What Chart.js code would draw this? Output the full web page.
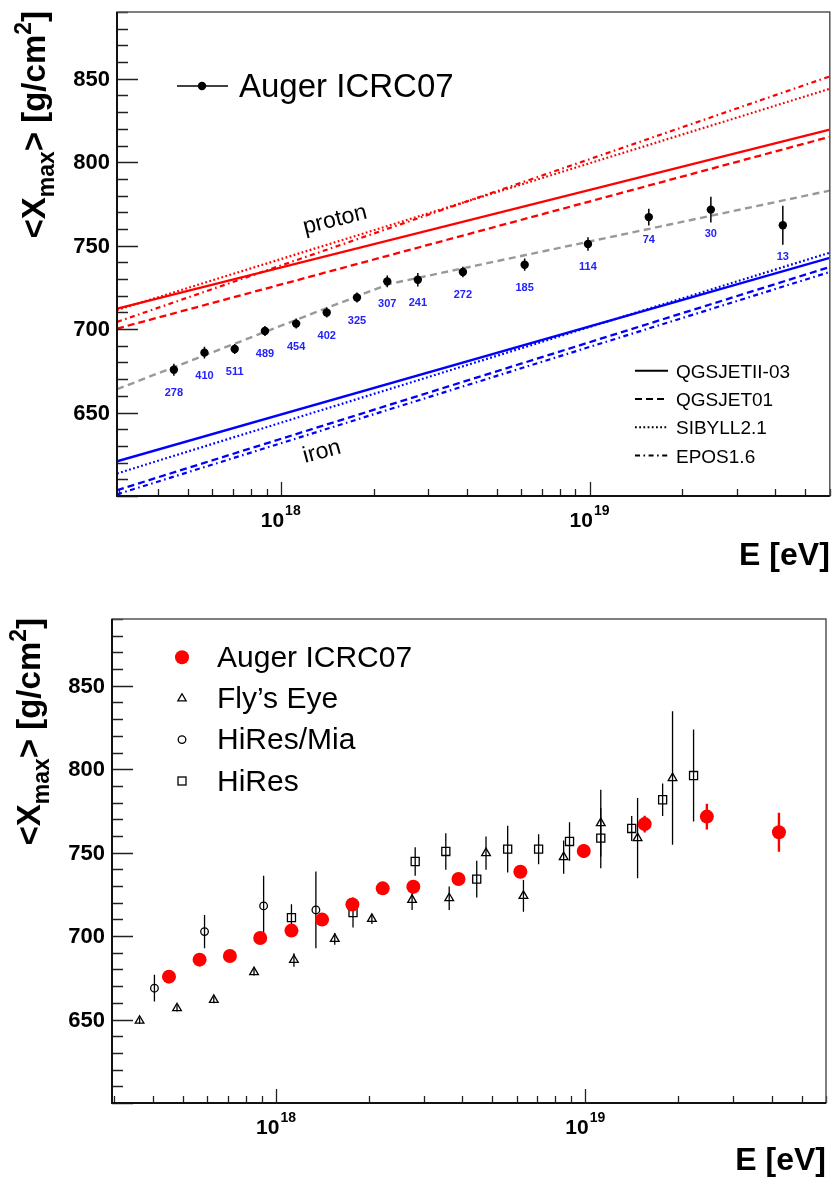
<!DOCTYPE html>
<html lang="en">
<head>
<meta charset="UTF-8">
<title>Xmax vs energy</title>
<script src="https://cdn.jsdelivr.net/npm/chart.js"></script>
<style>
  html, body { margin: 0; padding: 0; background: #fff; }
  #wrap { position: relative; width: 834px; height: 1180px; }
  canvas { position: absolute; left: 0; }
  #top { top: 0; }
  #bottom { top: 580px; }
</style>
</head>
<body>
<div id="wrap">
  <canvas id="top" width="834" height="580" style="width:834px;height:580px"></canvas>
  <canvas id="bottom" width="834" height="600" style="width:834px;height:600px"></canvas>
</div>
<script>
// energies are kept as log10(E/eV), depths in g/cm2

// Auger ICRC07
const augerLgE = [17.654, 17.753, 17.851, 17.949, 18.050, 18.149, 18.247, 18.345, 18.444, 18.590, 18.790, 18.995, 19.192, 19.393, 19.626];
const augerXmax = [675.7, 685.9, 688.1, 698.9, 703.3, 709.9, 718.9, 728.6, 729.6, 734.2, 738.6, 751.0, 767.1, 771.6, 762.2];
const augerErr = [3.6, 3.5, 3.0, 3.0, 3.0, 3.0, 3.0, 3.5, 4.0, 3.2, 3.7, 4.0, 5.0, 7.7, 11.7];
const augerEvents = [278, 410, 511, 489, 454, 402, 325, 307, 241, 272, 185, 114, 74, 30, 13];

// Fly's Eye
const flyLgE = [17.559, 17.680, 17.799, 17.929, 18.058, 18.190, 18.310, 18.440, 18.560, 18.679, 18.800, 18.930, 19.050, 19.169, 19.282];
const flyXmax = [649.3, 656.8, 661.8, 678.4, 685.7, 698.3, 710.3, 721.7, 722.7, 749.7, 724.1, 747.3, 767.7, 758.7, 794.7];
const flyErr = [2, 2, 2, 2, 4, 3.5, 3, 6, 7, 10, 9.5, 10, 20, 24, 40];

// HiRes/Mia
const miaLgE = [17.607, 17.769, 17.960, 18.129];
const miaXmax = [668.8, 702.7, 718.1, 715.7];
const miaErr = [8, 10, 18, 23];

// HiRes
const hiresLgE = [18.050, 18.249, 18.450, 18.549, 18.649, 18.749, 18.849, 18.949, 19.050, 19.150, 19.250, 19.350];
const hiresXmax = [711.1, 714.1, 744.7, 750.7, 734.1, 752.1, 752.1, 756.7, 758.7, 764.5, 781.7, 796.2];
const hiresErr = [8, 9, 8.6, 11, 11, 14, 9, 11.5, 18, 7.5, 9.7, 27.6];

// model predictions, straight in lg E (end points)
const modelLgE = [17.47, 19.778];
const protonQGSJETII = [712.3, 819.5];
const protonQGSJET01 = [700.3, 815.2];
const protonSIBYLL = [711.5, 844.0];
const protonEPOS = [704.3, 851.4];
const ironQGSJETII = [620.8, 742.7];
const ironQGSJET01 = [603.5, 737.2];
const ironSIBYLL = [613.5, 745.8];
const ironEPOS = [601.0, 734.2];

// broken-line fit through the Auger points
const fitLgE = [17.47, 18.35, 19.778];
const fitXmax = [664, 727, 783];

// axes
const eMin = 2.95e17, eMax = 6e19;
const xMin = 600, xMax = 890;
const xMajorTicks = [1e18, 1e19];
const yLabelValues = [650, 700, 750, 800, 850];
const modelNames = ['QGSJETII-03', 'QGSJET01', 'SIBYLL2.1', 'EPOS1.6'];
const expNames = ['Auger ICRC07', 'Fly\u2019s Eye', 'HiRes/Mia', 'HiRes'];

const FONT = '"Liberation Sans", Arial, Helvetica, sans-serif';
const DASH = { solid: [], dashed: [7, 4], dotted: [1.8, 2.4], dashdot: [5, 3.5, 1.6, 3.5] };
const modelDash = [DASH.solid, DASH.dashed, DASH.dotted, DASH.dashdot];

const xMinorTicks = [];
for (let d = 17; d <= 19; d++) {
  for (let m = 2; m <= 9; m++) {
    const v = m * 10 ** d;
    if (v >= eMin && v <= eMax) xMinorTicks.push(v);
  }
}
const yTickValues = [];
for (let v = xMin; v <= xMax; v += 10) yTickValues.push(v);

const pts = (lg, vals) => lg.map((l, i) => ({ x: 10 ** l, y: vals[i] }));
const bars = (lg, vals, err) => lg.flatMap((l, i) => [
  { x: 10 ** l, y: vals[i] - err[i] },
  { x: 10 ** l, y: vals[i] + err[i] },
  { x: 10 ** l, y: null }
]);

function lineSet(lg, vals, color, dash, width) {
  return {
    data: pts(lg, vals), showLine: true, borderColor: color, borderWidth: width,
    borderDash: dash, pointRadius: 0, fill: false
  };
}
function barSet(lg, vals, err, color, width) {
  return {
    data: bars(lg, vals, err), showLine: true, spanGaps: false,
    borderColor: color, borderWidth: width, pointRadius: 0, fill: false
  };
}
function markerSet(lg, vals, style, radius, fillColor, lineColor, width) {
  return {
    data: pts(lg, vals), showLine: false, pointStyle: style, pointRadius: radius,
    pointBackgroundColor: fillColor, pointBorderColor: lineColor, pointBorderWidth: width
  };
}

// ROOT-like frame: inward ticks, bold labels, titles with sub/superscripts
function drawFrame(chart, cfg) {
  const { ctx, chartArea: a, scales: { x, y } } = chart;
  ctx.save();
  ctx.strokeStyle = '#222';
  ctx.lineWidth = 1.3;
  ctx.beginPath();
  yTickValues.forEach(v => {
    const py = Math.round(y.getPixelForValue(v)) + 0.5;
    const len = v % 50 === 0 ? 21 : 11;
    ctx.moveTo(a.left, py); ctx.lineTo(a.left + len, py);
  });
  xMinorTicks.forEach(v => {
    const px = Math.round(x.getPixelForValue(v)) + 0.5;
    ctx.moveTo(px, a.bottom); ctx.lineTo(px, a.bottom - 7);
  });
  xMajorTicks.forEach(v => {
    const px = Math.round(x.getPixelForValue(v)) + 0.5;
    ctx.moveTo(px, a.bottom); ctx.lineTo(px, a.bottom - 14);
  });
  ctx.stroke();

  ctx.strokeStyle = '#555';
  ctx.lineWidth = 1.5;
  ctx.strokeRect(a.left, a.top, a.right - a.left, a.bottom - a.top);
  ctx.strokeStyle = '#111';
  ctx.lineWidth = 2;
  ctx.beginPath();
  ctx.moveTo(a.left, a.top); ctx.lineTo(a.left, a.bottom); ctx.lineTo(a.right, a.bottom);
  ctx.stroke();

  ctx.fillStyle = '#000';
  ctx.font = `bold 22px ${FONT}`;
  ctx.textAlign = 'right';
  ctx.textBaseline = 'middle';
  yLabelValues.forEach(v => ctx.fillText(String(v), a.left - 7, y.getPixelForValue(v) + 1));

  ctx.textBaseline = 'alphabetic';
  ctx.textAlign = 'left';
  xMajorTicks.forEach(v => {
    const exp = String(Math.round(Math.log10(v)));
    ctx.font = `bold 21px ${FONT}`;
    const w1 = ctx.measureText('10').width;
    ctx.font = `bold 14px ${FONT}`;
    const w2 = ctx.measureText(exp).width;
    const x0 = x.getPixelForValue(v) - (w1 + w2 + 1) / 2;
    ctx.font = `bold 21px ${FONT}`;
    ctx.fillText('10', x0, a.bottom + 31);
    ctx.font = `bold 14px ${FONT}`;
    ctx.fillText(exp, x0 + w1 + 1, a.bottom + 19);
  });

  ctx.font = `bold 32px ${FONT}`;
  ctx.textAlign = 'right';
  ctx.fillText('E [eV]', a.right, a.bottom + cfg.xTitleDy);

  // <X_max> [g/cm^2], rotated, ending at the top of the frame
  const parts = [['<X', 33, 0], ['max', 23, 8.5], ['> [g/cm', 33, 0], ['2', 23, -14], [']', 33, 0]];
  ctx.translate(cfg.yTitleX, a.top - 1);
  ctx.rotate(-Math.PI / 2);
  ctx.textAlign = 'left';
  let total = 0;
  parts.forEach(p => { ctx.font = `bold ${p[1]}px ${FONT}`; total += ctx.measureText(p[0]).width; });
  let u = -total;
  parts.forEach(p => {
    ctx.font = `bold ${p[1]}px ${FONT}`;
    ctx.fillText(p[0], u, p[2]);
    u += ctx.measureText(p[0]).width;
  });
  ctx.restore();
}

function rotatedText(ctx, text, cx, cy, deg, size) {
  ctx.save();
  ctx.translate(cx, cy);
  ctx.rotate(deg * Math.PI / 180);
  ctx.font = `${size}px ${FONT}`;
  ctx.fillStyle = '#000';
  ctx.textAlign = 'center';
  ctx.textBaseline = 'middle';
  ctx.fillText(text, 0, 0);
  ctx.restore();
}

const topDecor = {
  id: 'topDecor',
  afterDraw(chart) {
    const { ctx, scales: { x, y } } = chart;
    drawFrame(chart, { xTitleDy: 69, yTitleX: 45 });
    ctx.save();
    // number of events under each point
    ctx.fillStyle = '#2222ff';
    ctx.font = `bold 11px ${FONT}`;
    ctx.textAlign = 'center';
    ctx.textBaseline = 'middle';
    augerLgE.forEach((l, i) => {
      const off = Math.max(13.8, augerErr[i] + 7);
      ctx.fillText(String(augerEvents[i]), x.getPixelForValue(10 ** l), y.getPixelForValue(augerXmax[i] - off));
    });
    ctx.restore();

    rotatedText(ctx, 'proton', 335, 220, -14, 23);
    rotatedText(ctx, 'iron', 322, 452, -15, 23);

    ctx.save();
    // data legend
    ctx.strokeStyle = '#000';
    ctx.lineWidth = 1.5;
    ctx.beginPath(); ctx.moveTo(177, 86); ctx.lineTo(228, 86); ctx.stroke();
    ctx.fillStyle = '#000';
    ctx.beginPath(); ctx.arc(202, 86, 4.2, 0, 2 * Math.PI); ctx.fill();
    ctx.font = `33px ${FONT}`;
    ctx.textBaseline = 'alphabetic';
    ctx.fillText(expNames[0], 239, 97);

    // model legend
    ctx.font = `19px ${FONT}`;
    ctx.lineWidth = 2;
    modelNames.forEach((name, i) => {
      const ry = 370.7 + i * 28.3;
      ctx.setLineDash(modelDash[i]);
      ctx.beginPath(); ctx.moveTo(635, ry); ctx.lineTo(668, ry); ctx.stroke();
      ctx.setLineDash([]);
      ctx.fillText(name, 676, ry + 7);
    });
    ctx.restore();
  }
};

const bottomDecor = {
  id: 'bottomDecor',
  afterDraw(chart) {
    const { ctx } = chart;
    drawFrame(chart, { xTitleDy: 67, yTitleX: 40 });
    ctx.save();
    const mx = 182;
    const rows = [77.3, 118.5, 159.6, 201];
    ctx.fillStyle = '#ff0000';
    ctx.beginPath(); ctx.arc(mx, rows[0], 7, 0, 2 * Math.PI); ctx.fill();
    ctx.strokeStyle = '#000';
    ctx.lineWidth = 1.3;
    const r = 4.8;
    ctx.beginPath();
    ctx.moveTo(mx, rows[1] - r); ctx.lineTo(mx + r * 0.866, rows[1] + r * 0.5); ctx.lineTo(mx - r * 0.866, rows[1] + r * 0.5);
    ctx.closePath(); ctx.stroke();
    ctx.beginPath(); ctx.arc(mx, rows[2], 3.8, 0, 2 * Math.PI); ctx.stroke();
    ctx.strokeRect(mx - 4, rows[3] - 4, 8, 8);
    ctx.fillStyle = '#000';
    ctx.font = `30px ${FONT}`;
    ctx.textBaseline = 'alphabetic';
    expNames.forEach((name, i) => ctx.fillText(name, 217, rows[i] + 9.5));
    ctx.restore();
  }
};

function baseOptions(padding) {
  return {
    responsive: false,
    maintainAspectRatio: false,
    devicePixelRatio: 1,
    animation: false,
    events: [],
    layout: { padding },
    plugins: { legend: { display: false }, tooltip: { enabled: false } },
    scales: {
      x: { type: 'logarithmic', display: false, min: eMin, max: eMax },
      y: { type: 'linear', display: false, min: xMin, max: xMax }
    }
  };
}

const RED = '#ff0000', BLUE = '#0000ff';

new Chart(document.getElementById('top'), {
  type: 'scatter',
  data: {
    datasets: [
      markerSet(augerLgE, augerXmax, 'circle', 4.2, '#000', '#000', 0),
      barSet(augerLgE, augerXmax, augerErr, '#000', 1.5),
      lineSet(fitLgE, fitXmax, '#999999', [7, 4.5], 2.4),
      lineSet(modelLgE, protonQGSJETII, RED, DASH.solid, 2.3),
      lineSet(modelLgE, protonQGSJET01, RED, DASH.dashed, 2.3),
      lineSet(modelLgE, protonSIBYLL, RED, DASH.dotted, 2.2),
      lineSet(modelLgE, protonEPOS, RED, DASH.dashdot, 2.2),
      lineSet(modelLgE, ironQGSJETII, BLUE, DASH.solid, 2.3),
      lineSet(modelLgE, ironQGSJET01, BLUE, DASH.dashed, 2.3),
      lineSet(modelLgE, ironSIBYLL, BLUE, DASH.dotted, 2.2),
      lineSet(modelLgE, ironEPOS, BLUE, DASH.dashdot, 2.2)
    ]
  },
  options: baseOptions({ left: 117, top: 12, right: 4, bottom: 84 }),
  plugins: [topDecor]
});

new Chart(document.getElementById('bottom'), {
  type: 'scatter',
  data: {
    datasets: [
      markerSet(augerLgE, augerXmax, 'circle', 7, RED, RED, 0),
      barSet(augerLgE, augerXmax, augerErr, RED, 2.4),
      markerSet(flyLgE, flyXmax, 'triangle', 5, 'rgba(255,255,255,0)', '#000', 1.3),
      barSet(flyLgE, flyXmax, flyErr, '#000', 1.3),
      markerSet(miaLgE, miaXmax, 'circle', 3.8, 'rgba(255,255,255,0)', '#000', 1.3),
      barSet(miaLgE, miaXmax, miaErr, '#000', 1.3),
      markerSet(hiresLgE, hiresXmax, 'rect', 5.7, 'rgba(255,255,255,0)', '#000', 1.3),
      barSet(hiresLgE, hiresXmax, hiresErr, '#000', 1.3)
    ]
  },
  options: baseOptions({ left: 112, top: 39, right: 8, bottom: 77 }),
  plugins: [bottomDecor]
});
</script>
</body>
</html>
